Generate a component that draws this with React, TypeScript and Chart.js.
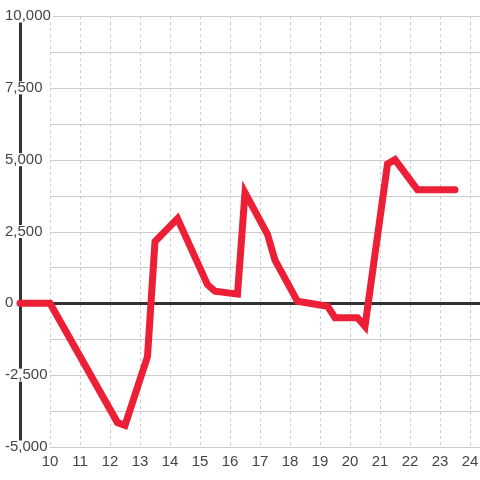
import React, { useEffect, useRef } from "react";
import { Chart, registerables } from "chart.js";

Chart.register(...registerables);

// Data
const xValues = [9, 10, 12.25, 12.5, 13.25, 13.5, 14.25, 15.25, 15.5, 16.25, 16.5, 17.25, 17.5, 18.25, 19.25, 19.5, 20.25, 20.5, 21.25, 21.5, 22.25, 23.5];
const yValues = [0, 0, -4150, -4250, -1850, 2150, 2950, 650, 420, 320, 3850, 2400, 1500, 70, -100, -500, -500, -800, 4850, 5000, 3950, 3950];
const xTickValues = [9, 10, 11, 12, 13, 14, 15, 16, 17, 18, 19, 20, 21, 22, 23, 24];
const yTickValues = [-5000, -3750, -2500, -1250, 0, 1250, 2500, 3750, 5000, 6250, 7500, 8750, 10000];
const yLabelStep = 2500;

const FONT = "'Liberation Sans', Arial, sans-serif";
const LINE_RED = "#ED1F36";
const TEXT = "#444444";

const gridPlugin = {
  id: "hgrid",
  beforeDraw(chart: any) {
    const { ctx, chartArea, scales } = chart;
    const y = scales.y;
    const x = scales.x;
    const startX = x.getPixelForValue(10);
    ctx.save();
    ctx.strokeStyle = "#cccccc";
    ctx.lineWidth = 1;
    y.ticks.forEach((t: any) => {
      if (t.value === 0) return;
      const py = Math.round(y.getPixelForValue(t.value)) + 0.5;
      ctx.beginPath();
      ctx.moveTo(startX, py);
      ctx.lineTo(chartArea.right, py);
      ctx.stroke();
    });
    ctx.restore();
  },
  beforeDatasetsDraw(chart: any) {
    const { ctx, chartArea, scales } = chart;
    const py = Math.round(scales.y.getPixelForValue(0)) + 0.5;
    ctx.save();
    ctx.strokeStyle = "#333333";
    ctx.lineWidth = 3;
    ctx.beginPath();
    ctx.moveTo(chartArea.left, py);
    ctx.lineTo(chartArea.right, py);
    ctx.stroke();
    ctx.restore();
  },
};

export default function App() {
  const canvasRef = useRef<HTMLCanvasElement | null>(null);

  useEffect(() => {
    document.body.style.margin = "0";
    const canvas = canvasRef.current;
    if (!canvas) return;
    const chart = new Chart(canvas, {
      type: "line",
      data: {
        datasets: [
          {
            data: xValues.map((x, i) => ({ x, y: yValues[i] })),
            borderColor: LINE_RED,
            backgroundColor: LINE_RED,
            borderWidth: 7,
            pointRadius: 0,
            tension: 0,
            fill: false,
            borderCapStyle: "round",
            borderJoinStyle: "miter",
            clip: false as any,
          },
        ],
      },
      options: {
        animation: false,
        responsive: false,
        maintainAspectRatio: false,
        layout: { padding: { top: 16, left: 0, right: 0, bottom: 0 } },
        plugins: { legend: { display: false }, tooltip: { enabled: false } },
        scales: {
          x: {
            type: "linear",
            min: 9,
            max: 24 + 1 / 3,
            afterBuildTicks: (s: any) => {
              s.ticks = xTickValues.map((v) => ({ value: v }));
            },
            afterFit: (s: any) => {
              s.height = 33;
              s.paddingLeft = 0;
              s.paddingRight = 0;
            },
            grid: { color: "#cccccc", lineWidth: 1, drawTicks: false, tickLength: 0 },
            border: { display: false, dash: [3, 3] },
            ticks: {
              callback: (v: any) => (v === 9 ? "" : String(v)),
              font: { family: FONT, size: 15 },
              color: TEXT,
              padding: 6,
              maxRotation: 0,
              autoSkip: false,
            },
          },
          y: {
            type: "linear",
            min: -5000,
            max: 10000,
            afterBuildTicks: (s: any) => {
              s.ticks = yTickValues.map((v) => ({ value: v }));
            },
            afterFit: (s: any) => {
              s.width = 20;
              s.paddingTop = 0;
              s.paddingBottom = 0;
            },
            grid: { display: false },
            border: { display: true, color: "#333333", width: 3 },
            ticks: {
              mirror: true,
              padding: -15,
              callback: (v: any) => (Number(v) % yLabelStep === 0 ? Number(v).toLocaleString("en-US") : ""),
              font: { family: FONT, size: 15, lineHeight: 0.87 },
              color: TEXT,
              showLabelBackdrop: true,
              backdropColor: "#ffffff",
              backdropPadding: { top: 0, bottom: 0, left: 2, right: 2 },
              autoSkip: false,
            } as any,
          },
        },
      },
      plugins: [gridPlugin],
    } as any);
    return () => chart.destroy();
  }, []);

  return (
    <div style={{ width: 480, height: 480 }}>
      <canvas ref={canvasRef} width={480} height={480} style={{ width: 480, height: 480, display: "block" }} />
    </div>
  );
}
